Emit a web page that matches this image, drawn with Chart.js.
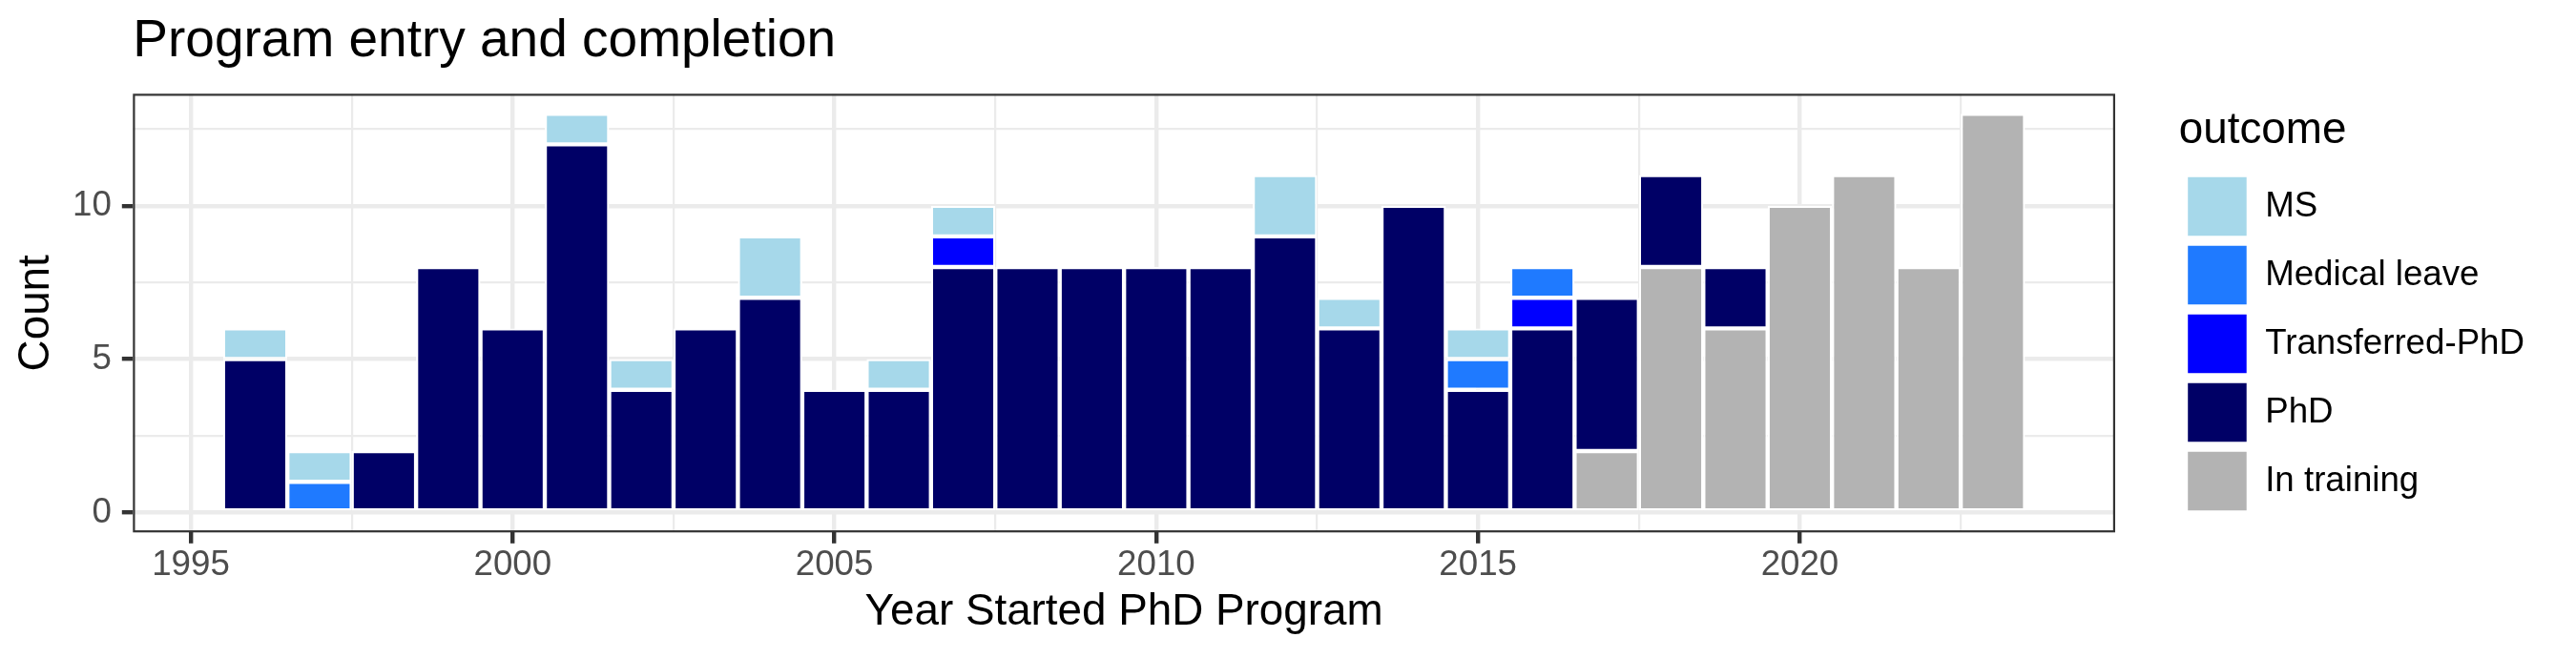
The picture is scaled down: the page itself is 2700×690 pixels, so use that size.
<!DOCTYPE html>
<html>
<head>
<meta charset="utf-8">
<script src="https://cdn.jsdelivr.net/npm/chart.js@4.4.1/dist/chart.umd.min.js"></script>
<style>
  html, body { margin: 0; padding: 0; background: #ffffff; }
  #wrap { width: 2700px; height: 690px; }
</style>
</head>
<body>
<div id="wrap"><canvas id="c" width="2700" height="690"></canvas></div>
<script>
// ---- data ----
const years = [1996, 1997, 1998, 1999, 2000, 2001, 2002, 2003, 2004, 2005, 2006, 2007, 2008, 2009,
               2010, 2011, 2012, 2013, 2014, 2015, 2016, 2017, 2018, 2019, 2020, 2021, 2022, 2023];
const inTraining     = [0, 0, 0, 0, 0, 0, 0, 0, 0, 0, 0, 0, 0, 0, 0, 0, 0, 0, 0, 0, 0, 2, 8, 6, 10, 11, 8, 13];
const phd            = [5, 0, 2, 8, 6, 12, 4, 6, 7, 4, 4, 8, 8, 8, 8, 8, 9, 6, 10, 4, 6, 5, 3, 2, 0, 0, 0, 0];
const transferredPhD = [0, 0, 0, 0, 0, 0, 0, 0, 0, 0, 0, 1, 0, 0, 0, 0, 0, 0, 0, 0, 1, 0, 0, 0, 0, 0, 0, 0];
const medicalLeave   = [0, 1, 0, 0, 0, 0, 0, 0, 0, 0, 0, 0, 0, 0, 0, 0, 0, 0, 0, 1, 1, 0, 0, 0, 0, 0, 0, 0];
const ms             = [1, 1, 0, 0, 0, 1, 1, 0, 2, 0, 1, 1, 0, 0, 0, 0, 2, 1, 0, 1, 0, 0, 0, 0, 0, 0, 0, 0];

const seriesNames  = ['In training', 'PhD', 'Transferred-PhD', 'Medical leave', 'MS'];
const seriesValues = [inTraining, phd, transferredPhD, medicalLeave, ms];
const seriesColors = ['#B3B3B3', '#000066', '#0000FF', '#1F7AFF', '#A6D8EA'];

const xMajorTicks = [1995, 2000, 2005, 2010, 2015, 2020];
const xMinorTicks = [1997.5, 2002.5, 2007.5, 2012.5, 2017.5, 2022.5];
const yMajorTicks = [0, 5, 10];
const yMinorTicks = [2.5, 7.5, 12.5];

const titleText  = 'Program entry and completion';
const xTitleText = 'Year Started PhD Program';
const yTitleText = 'Count';
const legendTitleText = 'outcome';

// ---- layout / style constants ----
const W = 2700, H = 690;
const AREA = { left: 139.3, top: 98.3, right: 2217, bottom: 558.3 };
const PAD_RIGHT = 44;
const GRID = '#EBEBEB', DARK = '#333333', TICKTXT = '#4D4D4D';

Chart.defaults.font.family = '"Liberation Sans", Arial, Helvetica, sans-serif';
Chart.defaults.color = '#000000';

const panelBorder = {
  id: 'panelBorder',
  afterDatasetsDraw(chart) {
    const { ctx, chartArea: a } = chart;
    ctx.save();
    ctx.strokeStyle = DARK;
    ctx.lineWidth = 2.2;
    ctx.strokeRect(a.left + 1.1, a.top + 1.1, a.right - a.left - 2.2, a.bottom - a.top - 2.2);
    ctx.restore();
  }
};

const tickList = (major, minor) => [...major, ...minor].sort((a, b) => a - b).map(v => ({ value: v }));
const isMajor = (list, c) => !!(c.tick && list.includes(c.tick.value));

const datasets = seriesNames.map((name, i) => ({
  label: name,
  data: seriesValues[i].map(v => (v === 0 ? null : v)),
  backgroundColor: seriesColors[i],
  borderColor: '#FFFFFF',
  borderWidth: 2.2,
  borderSkipped: false,
  barPercentage: 1,
  categoryPercentage: 1,
  inflateAmount: 0
}));

new Chart(document.getElementById('c'), {
  type: 'bar',
  data: { labels: years, datasets },
  plugins: [panelBorder],
  options: {
    responsive: false,
    maintainAspectRatio: false,
    devicePixelRatio: 1,
    animation: false,
    events: [],
    layout: { padding: { left: 0, top: 0, bottom: 0, right: PAD_RIGHT } },
    scales: {
      x: {
        type: 'linear', position: 'bottom', stacked: true,
        min: 1994.1, max: 2024.9, bounds: 'data', offset: false,
        afterBuildTicks: s => { s.ticks = tickList(xMajorTicks, xMinorTicks); },
        afterFit: s => { s.height = H - AREA.bottom; },
        ticks: {
          autoSkip: false, maxRotation: 0, minRotation: 0, padding: 5.15,
          color: TICKTXT, font: { size: 36.7, lineHeight: 1 },
          callback: v => (xMajorTicks.includes(v) ? String(v) : '')
        },
        grid: {
          offset: false, color: GRID,
          lineWidth: c => (isMajor(xMajorTicks, c) ? 4.4 : 2.2),
          drawTicks: true, tickLength: 11.5, tickWidth: 4.4,
          tickColor: c => (isMajor(xMajorTicks, c) ? DARK : 'rgba(0,0,0,0)')
        },
        border: { display: false },
        title: { display: true, text: xTitleText, color: '#000000',
                 font: { size: 45.8, lineHeight: 1 }, padding: { top: 0, bottom: 25 } }
      },
      y: {
        type: 'linear', position: 'left', stacked: true,
        min: -0.65, max: 13.65, bounds: 'data',
        afterBuildTicks: s => { s.ticks = tickList(yMajorTicks, yMinorTicks); },
        afterFit: s => { s.width = AREA.left; },
        ticks: {
          autoSkip: false, padding: 11, color: TICKTXT, font: { size: 36.7, lineHeight: 1 },
          callback: v => (yMajorTicks.includes(v) ? String(v) : '')
        },
        grid: {
          color: GRID,
          lineWidth: c => (isMajor(yMajorTicks, c) ? 4.4 : 2.2),
          drawTicks: true, tickLength: 11.5, tickWidth: 4.4,
          tickColor: c => (isMajor(yMajorTicks, c) ? DARK : 'rgba(0,0,0,0)')
        },
        border: { display: false },
        title: { display: true, text: yTitleText, color: '#000000',
                 font: { size: 45.8, lineHeight: 1 }, padding: { top: 15.4, bottom: 0 } }
      },
      y2: {
        type: 'linear', position: 'right', display: true,
        grid: { display: false, drawTicks: false },
        ticks: { display: false },
        border: { display: false },
        afterFit: s => { s.width = Math.max(0, W - PAD_RIGHT - s.chart.legend.width - AREA.right); }
      }
    },
    plugins: {
      tooltip: { enabled: false },
      title: {
        display: true, text: titleText, align: 'start', fullSize: false, color: '#000000',
        font: { size: 55, weight: 'normal', lineHeight: 1.2 },
        padding: { top: 11.25, bottom: 21.05 }
      },
      legend: {
        position: 'right', align: 'start', reverse: true,
        title: {
          display: true, text: legendTitleText, position: 'start', color: '#000000',
          font: { size: 45.8, lineHeight: 1.2 }, padding: { top: 114.2, bottom: 7.1 }
        },
        labels: {
          boxWidth: 63.7, boxHeight: 63.7, padding: 8.3, color: '#000000',
          font: { size: 36.7 }
        }
      }
    }
  }
});
</script>
</body>
</html>
